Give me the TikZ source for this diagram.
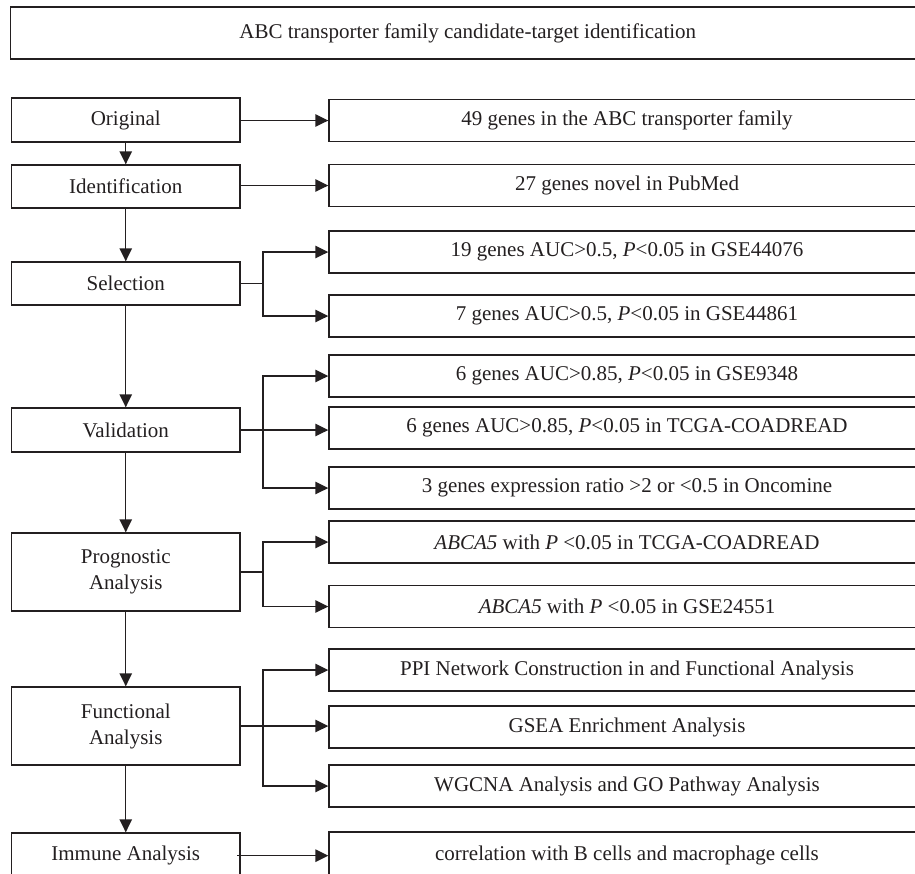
\documentclass[tikz,border=0pt]{standalone}
\usepackage{fontspec}
\setmainfont{Liberation Serif}
\usetikzlibrary{arrows.meta}
\definecolor{ink}{HTML}{231F20}
\begin{document}
\begin{tikzpicture}[x=1pt,y=-1pt,
  box/.style={draw=ink, line width=1.4pt, text=ink, font=\fontsize{21}{26}\selectfont, align=center, inner sep=0pt},
  lbox/.style={box, minimum width=228.5pt},
  rbox/.style={box, minimum width=596pt, minimum height=42pt},
  arr/.style={draw=ink, line width=1.4pt, -{Triangle[length=13pt,width=12.5pt]}},
  ln/.style={draw=ink, line width=1.4pt}]
\useasboundingbox (0,0) rectangle (915,873);
\clip (0,0) rectangle (915,873);
% title
\node[box, minimum width=914.5pt, minimum height=52pt] (title) at (467.75,33) {ABC transporter family candidate-target identification};
% left column
\node[lbox, minimum height=44pt] (orig) at (125.75,120) {Original};
\node[lbox, minimum height=43pt] (ident) at (125.75,186.5) {Identification};
\node[lbox, minimum height=43pt] (sel) at (125.75,283.5) {Selection};
\node[lbox, minimum height=44pt] (val) at (125.75,430) {Validation};
\node[lbox, minimum height=78pt] (prog) at (125.75,572) {Prognostic\\Analysis};
\node[lbox, minimum height=78pt] (func) at (125.75,726) {Functional\\Analysis};
\node[lbox, minimum height=45pt] (imm) at (125.75,855.5) {Immune Analysis};
% right column
\node[rbox] (r1) at (627,120.5) {49 genes in the ABC transporter family};
\node[rbox] (r2) at (627,185.5) {27 genes novel in PubMed};
\node[rbox] (r3) at (627,252) {19 genes AUC>0.5, \textit{P}<0.05 in GSE44076};
\node[rbox] (r4) at (627,316) {7 genes AUC>0.5, \textit{P}<0.05 in GSE44861};
\node[rbox] (r5) at (627,376) {6 genes AUC>0.85, \textit{P}<0.05 in GSE9348};
\node[rbox] (r6) at (627,428) {6 genes AUC>0.85, \textit{P}<0.05 in TCGA-COADREAD};
\node[rbox] (r7) at (627,488) {3 genes expression ratio >2 or <0.5 in Oncomine};
\node[rbox] (r8) at (627,542) {\textit{ABCA5} with \textit{P} <0.05 in TCGA-COADREAD};
\node[rbox] (r9) at (627,606.5) {\textit{ABCA5} with \textit{P} <0.05 in GSE24551};
\node[rbox] (r10) at (627,670) {PPI Network Construction in and Functional Analysis};
\node[rbox] (r11) at (627,727) {GSEA Enrichment Analysis};
\node[rbox] (r12) at (627,786) {WGCNA Analysis and GO Pathway Analysis};
\node[rbox, minimum height=46pt] (r13) at (627,855) {correlation with B cells and macrophage cells};
% branch coordinates
\coordinate (bs) at (263,283.5);
\coordinate (bv) at (263,430);
\coordinate (bp) at (263,572);
\coordinate (bf) at (263,726);
\coordinate (ims) at (237,855.7);
% vertical arrows
\draw[arr] (orig) -- (ident);
\draw[arr] (ident) -- (sel);
\draw[arr] (sel) -- (val);
\draw[arr] (val) -- (prog);
\draw[arr] (prog) -- (func);
\draw[arr] (func) -- (imm);
% horizontal arrows
\draw[arr] (orig.east |- r1.west) -- (r1.west);
\draw[arr] (ident.east |- r2.west) -- (r2.west);
\draw[ln] (sel.east) -- (bs);
\draw[arr] (bs) |- (r3.west);
\draw[arr] (bs) |- (r4.west);
\draw[arr] (val.east) -- (r6.west |- val.east);
\draw[arr] (bv) |- (r5.west);
\draw[arr] (bv) |- (r7.west);
\draw[ln] (prog.east) -- (bp);
\draw[arr] (bp) |- (r8.west);
\draw[arr] (bp) |- (r9.west);
\draw[arr] (func.east) -- (r11.west |- func.east);
\draw[arr] (bf) |- (r10.west);
\draw[arr] (bf) |- (r12.west);
\draw[arr] (ims) -- (r13.west |- ims);
\end{tikzpicture}
\end{document}
